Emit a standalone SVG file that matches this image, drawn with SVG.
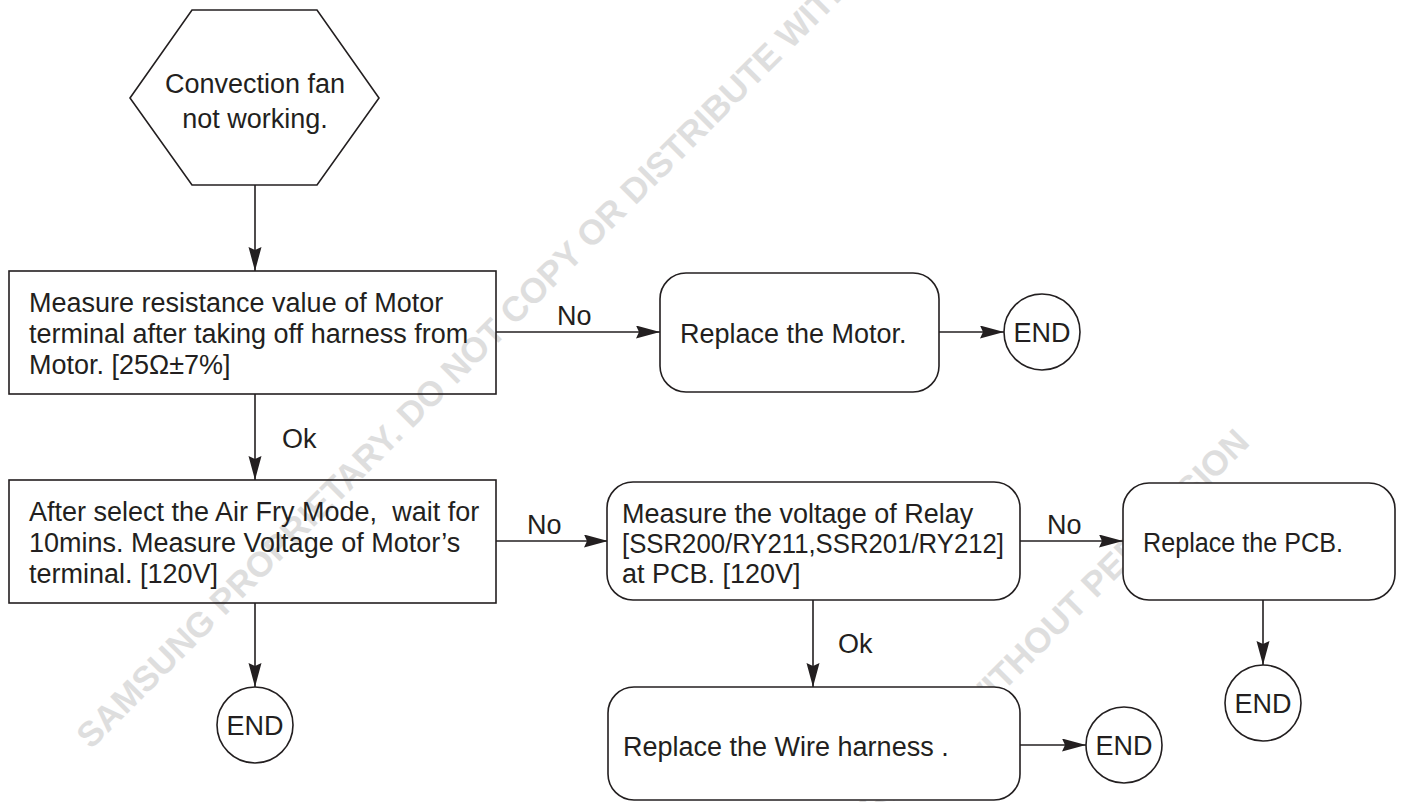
<svg xmlns="http://www.w3.org/2000/svg" width="1406" height="802" viewBox="0 0 1406 802">
<style>
.bg{fill:#ffffff}
.wm{font-family:"Liberation Sans",Arial,sans-serif;font-weight:bold;font-size:35px;fill:#dedede}
.sq{fill:none;stroke:#231f20;stroke-width:1.6}
.rd{fill:#ffffff;stroke:#231f20;stroke-width:1.6}
.t{font-family:"Liberation Sans",Arial,sans-serif;font-size:27px;fill:#231f20}
.c{text-anchor:middle}
.ln{fill:none;stroke:#231f20;stroke-width:1.6;marker-end:url(#ah)}
</style>
<defs>
<marker id="ah" markerUnits="userSpaceOnUse" markerWidth="26" markerHeight="14" refX="24" refY="6.5" orient="auto">
<path d="M0,0 L24,6.5 L0,13 L3,6.5 z" fill="#231f20"/>
</marker>
</defs>
<rect class="bg" x="0" y="0" width="1406" height="802"/>
<g id="watermark">
<text class="wm" x="91" y="750" transform="rotate(-45 91 750)">SAMSUNG PROPRIETARY. DO NOT COPY OR DISTRIBUTE WITHOUT PERMISSION</text>
<text class="wm" x="274" y="1421" transform="rotate(-45 274 1421)">SAMSUNG PROPRIETARY. DO NOT COPY OR DISTRIBUTE WITHOUT PERMISSION</text>
</g>
<g id="connectors">
<line class="ln" x1="255" y1="185" x2="255" y2="271"/>
<line class="ln" x1="496" y1="332" x2="660" y2="332"/>
<line class="ln" x1="939" y1="332" x2="1004" y2="332"/>
<line class="ln" x1="255" y1="394" x2="255" y2="480"/>
<line class="ln" x1="255" y1="603" x2="255" y2="687"/>
<line class="ln" x1="496" y1="541" x2="608" y2="541"/>
<line class="ln" x1="1020" y1="541" x2="1123" y2="541"/>
<line class="ln" x1="1263" y1="600" x2="1263" y2="665"/>
<line class="ln" x1="813" y1="600" x2="813" y2="687"/>
<line class="ln" x1="1020" y1="745" x2="1086" y2="745"/>
<text class="t" x="557" y="325">No</text>
<text class="t" x="282" y="448">Ok</text>
<text class="t" x="527" y="534">No</text>
<text class="t" x="1047" y="534">No</text>
<text class="t" x="838" y="653">Ok</text>
</g>
<g id="start">
<polygon class="sq" points="130,98 192,10 317,10 379,98 317,185 192,185"/>
<text class="t c" x="255" y="93">Convection fan</text>
<text class="t c" x="255" y="128">not working.</text>
</g>
<g id="measure-resistance">
<rect class="sq" x="9" y="271" width="487" height="123"/>
<text class="t" x="29" y="312">Measure resistance value of Motor</text>
<text class="t" x="29" y="343">terminal after taking off harness from</text>
<text class="t" x="29" y="374">Motor. [25Ω±7%]</text>
</g>
<g id="replace-motor">
<rect class="rd" x="660" y="273" width="279" height="119" rx="26"/>
<text class="t" x="680" y="343">Replace the Motor.</text>
</g>
<g id="end1">
<circle class="rd" cx="1042" cy="332" r="38"/>
<text class="t c" x="1042" y="342">END</text>
</g>
<g id="measure-voltage">
<rect class="sq" x="9" y="480" width="487" height="123"/>
<text class="t" x="29" y="521" xml:space="preserve">After select the Air Fry Mode,  wait for</text>
<text class="t" x="29" y="552">10mins. Measure Voltage of Motor’s</text>
<text class="t" x="29" y="583">terminal. [120V]</text>
</g>
<g id="end2">
<circle class="rd" cx="255" cy="725" r="38"/>
<text class="t c" x="255" y="735">END</text>
</g>
<g id="measure-relay">
<rect class="rd" x="607" y="482" width="413" height="118" rx="26"/>
<text class="t" x="622" y="523">Measure the voltage of Relay</text>
<text class="t" x="622" y="553" textLength="382" lengthAdjust="spacingAndGlyphs">[SSR200/RY211,SSR201/RY212]</text>
<text class="t" x="622" y="583">at PCB. [120V]</text>
</g>
<g id="replace-pcb">
<rect class="rd" x="1123" y="483" width="272" height="117" rx="26"/>
<text class="t" x="1143" y="552" textLength="200" lengthAdjust="spacingAndGlyphs">Replace the PCB.</text>
</g>
<g id="end3">
<circle class="rd" cx="1263" cy="703" r="38"/>
<text class="t c" x="1263" y="713">END</text>
</g>
<g id="replace-wire">
<rect class="rd" x="608" y="687" width="412" height="113" rx="26"/>
<text class="t" x="623" y="756">Replace the Wire harness .</text>
</g>
<g id="end4">
<circle class="rd" cx="1124" cy="745" r="38"/>
<text class="t c" x="1124" y="755">END</text>
</g>
</svg>
